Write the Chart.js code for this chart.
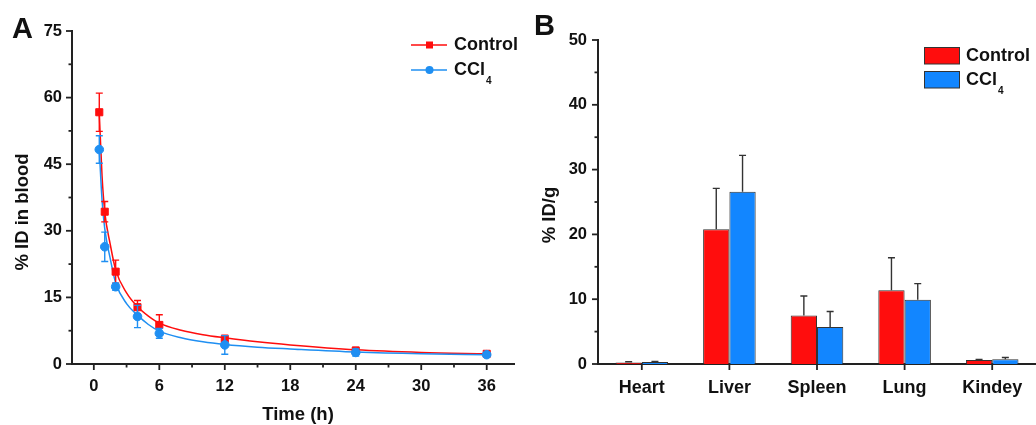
<!DOCTYPE html>
<html>
<head>
<meta charset="utf-8">
<script src="https://cdn.jsdelivr.net/npm/chart.js@4"></script>
<style>
  body { margin: 0; background: #fff; }
  .panel { position: absolute; top: 0; height: 425px; }
</style>
</head>
<body>
<div class="panel" style="left:0;width:520px"><canvas id="chartA" width="520" height="425"></canvas></div>
<div class="panel" style="left:520px;width:516px"><canvas id="chartB" width="516" height="425"></canvas></div>
<script>
// Panel A: % ID in blood over time
const times = [0.5, 1, 2, 4, 6, 12, 24, 36];
const controlBlood = [56.7, 34.3, 20.8, 12.8, 8.8, 5.6, 3.0, 2.3];
const controlBloodErr = [4.3, 2.3, 2.6, 1.5, 2.3, 0.9, 0.8, 0.3];
const ccl4Blood = [48.3, 26.4, 17.4, 10.7, 6.9, 4.3, 2.6, 2.1];
const ccl4BloodErr = [3.1, 3.3, 0.8, 2.5, 1.1, 2.1, 0.8, 0.3];
// fitted curves
const fitTimes = [0.5, 0.75, 1, 1.5, 2, 3, 4, 5, 6, 8, 10, 12, 15, 18, 24, 30, 36];
const controlFit = [56.5, 42.5, 34.3, 27.0, 21.2, 16.0, 12.9, 10.8, 9.2, 7.6, 6.6, 5.9, 5.0, 4.3, 3.2, 2.6, 2.3];
const ccl4Fit = [48.3, 37.0, 30.5, 23.8, 18.3, 13.6, 11.0, 8.9, 7.4, 5.9, 5.0, 4.4, 3.8, 3.4, 2.7, 2.3, 2.1];
const timeTicks = [0, 6, 12, 18, 24, 30, 36];
const timeMinorTicks = [3, 9, 15, 21, 27, 33];
const bloodTicks = [0, 15, 30, 45, 60, 75];
const bloodMinorTicks = [7.5, 22.5, 37.5, 52.5, 67.5];

// Panel B: % ID/g per organ
const organs = ['Heart', 'Liver', 'Spleen', 'Lung', 'Kindey'];
const controlOrgan = [0.25, 20.8, 7.5, 11.4, 0.6];
const controlOrganErr = [0.1, 6.3, 3.0, 5.0, 0.1];
const ccl4Organ = [0.3, 26.6, 5.7, 9.9, 0.75];
const ccl4OrganErr = [0.1, 5.6, 2.4, 2.5, 0.25];
const organTicks = [0, 10, 20, 30, 40, 50];
const organMinorTicks = [5, 15, 25, 35, 45];

const FONT = '"Liberation Sans", Arial, sans-serif';
const RED = '#ff0d0d';
const BLUE_A = '#1f8ff2';
const BLUE_B = '#1286ff';
const AXIS = '#222';
const tickFont = { family: FONT, size: 16.5, weight: 'bold' };

const pts = (xs, ys) => xs.map((x, i) => ({ x, y: ys[i] }));
const allTicks = (a, b) => [...a, ...b].sort((p, q) => p - q).map(v => ({ value: v }));

// error bars drawn right after their own dataset
const errorBars = {
  id: 'errorBars',
  afterDatasetDraw(chart, args) {
    const ds = chart.data.datasets[args.index];
    if (!ds.errors) return;
    const y = chart.scales.y;
    const ctx = chart.ctx;
    ctx.save();
    ctx.strokeStyle = ds.errorColor;
    ctx.lineWidth = 1.4;
    args.meta.data.forEach((el, i) => {
      const d = ds.data[i];
      const v = typeof d === 'object' ? d.y : d;
      const e = ds.errors[i];
      const top = y.getPixelForValue(v + e);
      const bot = ds.errorUpOnly ? y.getPixelForValue(v) : y.getPixelForValue(v - e);
      ctx.beginPath();
      ctx.moveTo(el.x, bot); ctx.lineTo(el.x, top);
      ctx.moveTo(el.x - 3.5, top); ctx.lineTo(el.x + 3.5, top);
      if (!ds.errorUpOnly) { ctx.moveTo(el.x - 3.5, bot); ctx.lineTo(el.x + 3.5, bot); }
      ctx.stroke();
    });
    ctx.restore();
  }
};

// outward tick marks, long for majors, short for minors
const axisTicks = {
  id: 'axisTicks',
  afterDraw(chart) {
    const ctx = chart.ctx;
    ctx.save();
    ctx.strokeStyle = AXIS;
    ctx.lineWidth = 1.8;
    Object.values(chart.scales).forEach(s => {
      const majors = s.options.majorTicks;
      const edge = s.isHorizontal() ? chart.chartArea.bottom : chart.chartArea.left;
      s.ticks.forEach((t, i) => {
        const len = !majors || majors.includes(t.value) ? 6 : 3.5;
        const p = s.getPixelForTick(i);
        ctx.beginPath();
        if (s.isHorizontal()) { ctx.moveTo(p, edge); ctx.lineTo(p, edge + len); }
        else { ctx.moveTo(edge, p); ctx.lineTo(edge - len, p); }
        ctx.stroke();
      });
    });
    ctx.restore();
  }
};

function text(ctx, str, x, y, size, align, rot) {
  ctx.save();
  ctx.font = 'bold ' + size + 'px ' + FONT;
  ctx.fillStyle = '#111';
  ctx.textAlign = align || 'left';
  ctx.textBaseline = 'middle';
  ctx.translate(x, y);
  if (rot) ctx.rotate(rot);
  ctx.fillText(str, 0, 0);
  ctx.restore();
}

function ccl4Label(ctx, x, y) {
  text(ctx, 'CCl', x, y, 18, 'left');
  ctx.save();
  ctx.font = 'bold 18px ' + FONT;
  const w = ctx.measureText('CCl').width;
  ctx.restore();
  text(ctx, '4', x + w + 1, y + 11, 10, 'left');
}

const decorA = {
  id: 'decorA',
  afterDraw(chart) {
    const ctx = chart.ctx;
    text(ctx, 'A', 12, 30, 29, 'left');
    text(ctx, '% ID in blood', 23, 212, 18.5, 'center', -Math.PI / 2);
    text(ctx, 'Time (h)', 298, 415, 18.5, 'center');
    ctx.save();
    ctx.lineWidth = 1.5;
    ctx.strokeStyle = RED; ctx.fillStyle = RED;
    ctx.beginPath(); ctx.moveTo(411, 45); ctx.lineTo(447, 45); ctx.stroke();
    ctx.fillRect(426, 41.5, 7, 7);
    ctx.strokeStyle = BLUE_A; ctx.fillStyle = BLUE_A;
    ctx.beginPath(); ctx.moveTo(411, 70); ctx.lineTo(447, 70); ctx.stroke();
    ctx.beginPath(); ctx.arc(429.5, 70, 4, 0, Math.PI * 2); ctx.fill();
    ctx.restore();
    text(ctx, 'Control', 454, 45, 18, 'left');
    ccl4Label(ctx, 454, 70);
  }
};

const decorB = {
  id: 'decorB',
  afterDraw(chart) {
    const ctx = chart.ctx;
    text(ctx, 'B', 14, 27, 29, 'left');
    text(ctx, '% ID/g', 30, 215, 18.5, 'center', -Math.PI / 2);
    ctx.save();
    ctx.lineWidth = 1;
    ctx.strokeStyle = '#333';
    ctx.fillStyle = RED; ctx.fillRect(404.5, 47.5, 35, 16.5); ctx.strokeRect(404.5, 47.5, 35, 16.5);
    ctx.fillStyle = BLUE_B; ctx.fillRect(404.5, 71.5, 35, 16.5); ctx.strokeRect(404.5, 71.5, 35, 16.5);
    ctx.restore();
    text(ctx, 'Control', 446, 56, 18, 'left');
    ccl4Label(ctx, 446, 80);
  }
};

new Chart(document.getElementById('chartA'), {
  type: 'line',
  data: {
    datasets: [
      { label: 'CCl4', data: pts(times, ccl4Blood), showLine: false, pointStyle: 'circle', pointRadius: 4.3,
        backgroundColor: BLUE_A, borderColor: BLUE_A, errors: ccl4BloodErr, errorColor: BLUE_A, order: 0 },
      { label: 'Control', data: pts(times, controlBlood), showLine: false, pointStyle: 'rect', pointRadius: 5,
        backgroundColor: RED, borderColor: RED, errors: controlBloodErr, errorColor: RED, order: 1 },
      { label: 'CCl4 fit', data: pts(fitTimes, ccl4Fit), pointRadius: 0, borderColor: BLUE_A, borderWidth: 1.5,
        cubicInterpolationMode: 'monotone', order: 2 },
      { label: 'Control fit', data: pts(fitTimes, controlFit), pointRadius: 0, borderColor: RED, borderWidth: 1.5,
        cubicInterpolationMode: 'monotone', order: 3 }
    ]
  },
  options: {
    responsive: false,
    animation: false,
    events: [],
    layout: { padding: { top: 31, right: 1, left: 0, bottom: 0 } },
    plugins: { legend: { display: false }, tooltip: { enabled: false } },
    scales: {
      x: {
        type: 'linear', min: -2, max: 38.5, majorTicks: timeTicks,
        afterBuildTicks: s => { s.ticks = allTicks(timeTicks, timeMinorTicks); },
        afterFit: s => { s.height = 61; },
        grid: { display: false },
        border: { color: AXIS, width: 2 },
        ticks: { padding: 5, maxRotation: 0, autoSkip: false, font: tickFont, color: '#111',
                 callback: v => timeTicks.includes(v) ? v : '' }
      },
      y: {
        min: 0, max: 75, majorTicks: bloodTicks,
        afterBuildTicks: s => { s.ticks = allTicks(bloodTicks, bloodMinorTicks); },
        afterFit: s => { s.width = 72; },
        grid: { display: false },
        border: { color: AXIS, width: 2 },
        ticks: { padding: 2, autoSkip: false, font: tickFont, color: '#111',
                 callback: v => bloodTicks.includes(v) ? v : '' }
      }
    }
  },
  plugins: [errorBars, axisTicks, decorA]
});

new Chart(document.getElementById('chartB'), {
  type: 'bar',
  data: {
    labels: organs,
    datasets: [
      { label: 'Control', data: controlOrgan, backgroundColor: RED, borderColor: '#333', borderWidth: 1,
        errors: controlOrganErr, errorColor: '#333', errorUpOnly: true },
      { label: 'CCl4', data: ccl4Organ, backgroundColor: BLUE_B, borderColor: '#333', borderWidth: 1,
        errors: ccl4OrganErr, errorColor: '#333', errorUpOnly: true }
    ]
  },
  options: {
    responsive: false,
    animation: false,
    events: [],
    datasets: { bar: { categoryPercentage: 0.6, barPercentage: 1 } },
    layout: { padding: { top: 40, right: 0, left: 0, bottom: 0 } },
    plugins: { legend: { display: false }, tooltip: { enabled: false } },
    scales: {
      x: {
        offset: true,
        afterFit: s => { s.height = 61; },
        grid: { display: false },
        border: { color: AXIS, width: 2 },
        ticks: { padding: 5, maxRotation: 0, font: { family: FONT, size: 18, weight: 'bold' }, color: '#111' }
      },
      y: {
        min: 0, max: 50, majorTicks: organTicks,
        afterBuildTicks: s => { s.ticks = allTicks(organTicks, organMinorTicks); },
        afterFit: s => { s.width = 78; },
        grid: { display: false },
        border: { color: AXIS, width: 2 },
        ticks: { padding: 3, autoSkip: false, font: tickFont, color: '#111',
                 callback: v => organTicks.includes(v) ? v : '' }
      }
    }
  },
  plugins: [errorBars, axisTicks, decorB]
});
</script>
</body>
</html>
